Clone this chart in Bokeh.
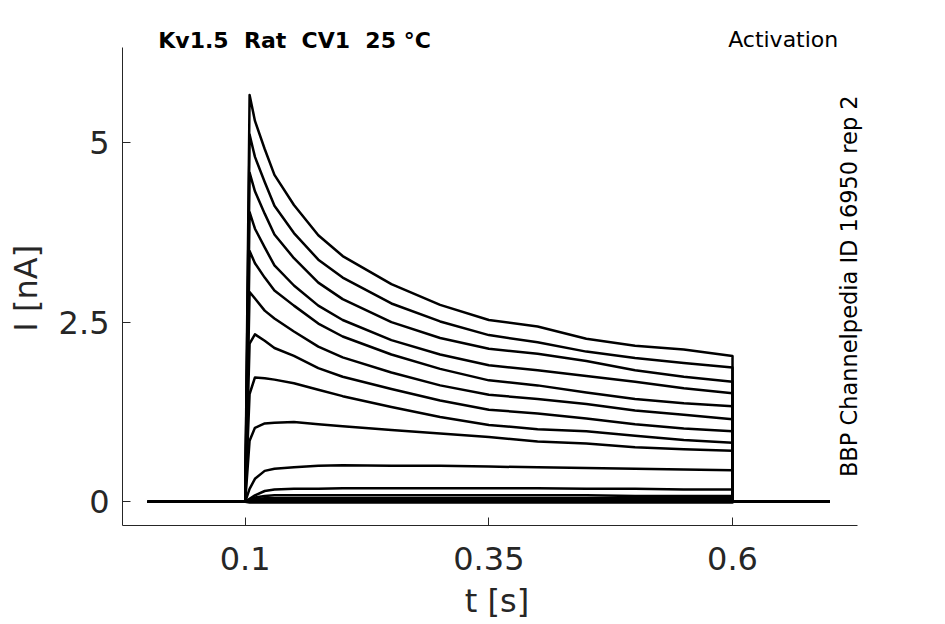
import math
from bokeh.plotting import figure
from bokeh.models import FixedTicker, Label, Range1d
from bokeh.embed import file_html
from bokeh.resources import INLINE

# time knots [s]
t_knots = [0.0, 0.1, 0.1045, 0.11, 0.12, 0.13, 0.15, 0.175, 0.2, 0.25,
           0.3, 0.35, 0.4, 0.45, 0.5, 0.55, 0.6, 0.6, 0.7]

# current sweeps [nA]
I1 = [0, 0, 5.66, 5.30, 4.91, 4.55, 4.13, 3.71, 3.42, 3.03, 2.74, 2.53, 2.44, 2.27, 2.17, 2.12, 2.03, 0, 0]
I2 = [0, 0, 5.11, 4.80, 4.45, 4.12, 3.74, 3.37, 3.12, 2.76, 2.51, 2.32, 2.22, 2.09, 2.00, 1.93, 1.87, 0, 0]
I3 = [0, 0, 4.58, 4.32, 4.01, 3.72, 3.39, 3.05, 2.82, 2.50, 2.28, 2.13, 2.06, 1.96, 1.83, 1.74, 1.67, 0, 0]
I4 = [0, 0, 4.03, 3.80, 3.54, 3.29, 3.01, 2.73, 2.53, 2.25, 2.05, 1.90, 1.83, 1.75, 1.67, 1.58, 1.51, 0, 0]
I5 = [0, 0, 3.49, 3.32, 3.12, 2.94, 2.73, 2.48, 2.30, 2.05, 1.85, 1.69, 1.62, 1.52, 1.43, 1.37, 1.33, 0, 0]
I6 = [0, 0, 2.92, 2.83, 2.66, 2.55, 2.37, 2.16, 2.01, 1.80, 1.62, 1.49, 1.43, 1.36, 1.27, 1.21, 1.15, 0, 0]
I7 = [0, 0, 2.20, 2.33, 2.24, 2.14, 2.03, 1.86, 1.74, 1.57, 1.41, 1.28, 1.23, 1.16, 1.08, 1.02, 0.98, 0, 0]
I8 = [0, 0, 1.50, 1.73, 1.72, 1.70, 1.65, 1.56, 1.47, 1.32, 1.18, 1.07, 1.01, 0.98, 0.92, 0.86, 0.82, 0, 0]
I9 = [0, 0, 0.85, 1.03, 1.09, 1.10, 1.11, 1.08, 1.05, 1.00, 0.95, 0.90, 0.84, 0.81, 0.76, 0.73, 0.71, 0, 0]
I10 = [0, 0, 0.18, 0.32, 0.43, 0.46, 0.48, 0.50, 0.51, 0.50, 0.50, 0.49, 0.48, 0.47, 0.46, 0.45, 0.44, 0, 0]
I11 = [0, 0, 0.04, 0.09, 0.15, 0.17, 0.18, 0.18, 0.19, 0.19, 0.19, 0.19, 0.19, 0.18, 0.18, 0.17, 0.17, 0, 0]
I12 = [0, 0, 0.03, 0.06, 0.08, 0.09, 0.09, 0.09, 0.09, 0.09, 0.09, 0.09, 0.09, 0.09, 0.08, 0.08, 0.08, 0, 0]
I13 = [0, 0, 0.02, 0.04, 0.05, 0.05, 0.05, 0.05, 0.05, 0.05, 0.05, 0.05, 0.05, 0.05, 0.05, 0.05, 0.05, 0, 0]
I14 = [0, 0, 0.01, 0.02, 0.03, 0.03, 0.03, 0.03, 0.03, 0.03, 0.03, 0.03, 0.03, 0.03, 0.03, 0.03, 0.03, 0, 0]
I15 = [0, 0, 0.00, 0.01, 0.01, 0.01, 0.01, 0.01, 0.01, 0.01, 0.01, 0.01, 0.01, 0.01, 0.01, 0.01, 0.01, 0, 0]
I16 = [0, 0, -0.01, -0.01, -0.01, -0.01, -0.01, -0.01, -0.01, -0.01, -0.01, -0.01, -0.01, -0.01, -0.01, -0.01, -0.01, 0, 0]
sweeps = [I1, I2, I3, I4, I5, I6, I7, I8, I9, I10, I11, I12, I13, I14, I15, I16]

x_ticks = [0.1, 0.35, 0.6]
x_tick_labels = ["0.1", "0.35", "0.6"]
y_ticks = [0, 2.5, 5]
y_tick_labels = ["0", "2.5", "5"]
x_axis_extent = (-0.0259, 0.728)
y_axis_extent = (-0.33, 6.32)

title_text = "Kv1.5 \u00a0Rat \u00a0CV1 \u00a025 \u00b0C"
right_text = "Activation"
side_text = "BBP Channelpedia ID 16950 rep 2"

FONT = "DejaVu Sans"
GREY = "#262626"

p = figure(width=937, height=622, output_backend="svg", toolbar_location=None,
           x_range=Range1d(-0.0259, 0.7426), y_range=Range1d(-0.33, 6.698),
           min_border_left=122, min_border_right=66, min_border_top=20,
           min_border_bottom=96)
p.outline_line_color = None
p.grid.visible = False
p.background_fill_color = "white"
p.border_fill_color = "white"

for ys in sweeps:
    p.line(t_knots, ys, line_color="black", line_width=2.5, line_join="round")

for ax, ticks, labels, ext in ((p.xaxis[0], x_ticks, x_tick_labels, x_axis_extent),
                               (p.yaxis[0], y_ticks, y_tick_labels, y_axis_extent)):
    ax.ticker = FixedTicker(ticks=ticks)
    ax.major_label_overrides = {t: l for t, l in zip(ticks, labels)}
    ax.bounds = ext
    ax.major_tick_in = 8
    ax.major_tick_out = 0
    ax.minor_tick_line_color = None
    ax.axis_line_color = GREY
    ax.major_tick_line_color = GREY
    ax.major_label_text_font = FONT
    ax.major_label_text_font_size = "32px"
    ax.major_label_text_color = GREY
    ax.axis_label_text_font = FONT
    ax.axis_label_text_font_size = "32px"
    ax.axis_label_text_font_style = "normal"
    ax.axis_label_text_color = GREY

p.xaxis[0].axis_label = "t [s]"
# trailing no-break spaces centre the visible label on the spine, as in the reference
p.yaxis[0].axis_label = "I [nA]\u00a0\u00a0\u00a0"
p.xaxis[0].major_label_standoff = 21
p.yaxis[0].major_label_standoff = 13
p.xaxis[0].axis_label_standoff = 9
p.yaxis[0].axis_label_standoff = 11

p.add_layout(Label(x=0.0108, y=6.426, text=title_text, text_font=FONT,
                   text_font_size="22px", text_font_style="bold", text_color="black",
                   text_align="left", text_baseline="alphabetic"))
p.add_layout(Label(x=0.7085, y=6.436, text=right_text, text_font=FONT,
                   text_font_size="22px", text_color="black",
                   text_align="right", text_baseline="alphabetic"))
p.add_layout(Label(x=0.7198, y=3.0, text=side_text, text_font=FONT,
                   text_font_size="22.5px", text_color="black", angle=math.pi / 2,
                   text_align="center", text_baseline="alphabetic"))

open("out.html", "w").write(file_html(p, INLINE))
